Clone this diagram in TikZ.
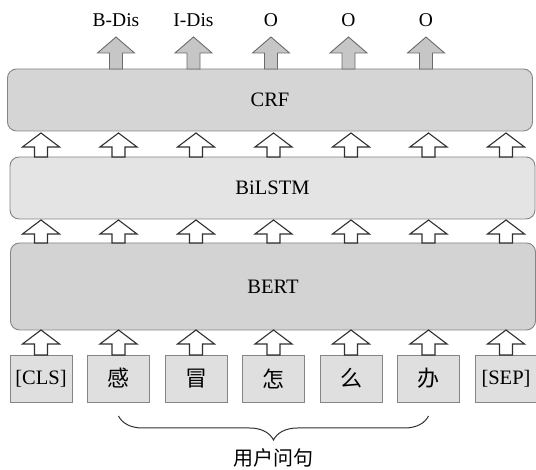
\documentclass[tikz,border=0pt]{standalone}
\usepackage{fontspec}
\setmainfont{Liberation Serif}
\newfontfamily\cjk{Noto Sans CJK SC}
\usetikzlibrary{calc,chains,positioning,decorations.pathreplacing}

\definecolor{boxline}{HTML}{858585}
\definecolor{crffill}{HTML}{D5D5D5}
\definecolor{lstmfill}{HTML}{E4E4E4}
\definecolor{bertfill}{HTML}{D3D3D3}
\definecolor{tokfill}{HTML}{DFDFDF}
\definecolor{arrfill}{HTML}{C6C6C6}
\definecolor{arrline}{HTML}{303030}
\definecolor{grayline}{HTML}{6A6A6A}

% block arrow pointing up: style, from, to, head length
\newcommand{\blockup}[4]{%
  \draw[#1] let \p1=(#2), \p2=(#3) in
    (\x1-6.5pt,\y1) -- (\x1-6.5pt,\y2-#4) -- (\x1-18.5pt,\y2-#4) -- (\x1,\y2)
    -- (\x1+18.5pt,\y2-#4) -- (\x1+6.5pt,\y2-#4) -- (\x1+6.5pt,\y1) -- cycle;}

\begin{document}
\begin{tikzpicture}[x=1pt, y=1pt,
node distance=15.5pt,
 start chain = T going right,
    layer/.style = {rectangle, rounded corners=9pt, draw=boxline, line width=0.9pt,
                    minimum width=525pt, outer sep=0pt,
                    font=\fontsize{20.5}{24}\selectfont},
    tok/.style = {rectangle, draw=boxline, fill=tokfill, line width=0.9pt,% token boxes (chain)
                  minimum width=62pt, minimum height=47pt, inner sep=1pt,
                  outer sep=0pt, on chain, font=\fontsize{20.5}{24}\selectfont},
    wa/.style = {draw=arrline, fill=white, line width=1.1pt},
    ga/.style = {draw=grayline, fill=arrfill, line width=0.9pt},
    lab/.style = {anchor=base, inner sep=0pt, font=\fontsize{19.5}{23}\selectfont},
                        ]
\useasboundingbox (0,0) rectangle (536,470);
% layers
\node[layer, fill=crffill, minimum height=62pt] (crf) at (270,370) {CRF};
\node[layer, fill=lstmfill, minimum height=62pt] (bilstm) at (272.5,282) {BiLSTM};
\node[layer, fill=bertfill, minimum height=87pt] (bert) at (273,183.5) {BERT};
% input tokens
\node[tok] at (41,91.5) {[CLS]};
\foreach \t in {感,冒,怎,么,办}% <-- characters of the query
    \node[tok] {\cjk\fontsize{22}{24}\selectfont\t};
\node[tok] {[SEP]};
% arrows between layers
\foreach \i in {1,...,7} {
  \blockup{wa}{T-\i.north}{bert.south -| T-\i}{14pt}
  \blockup{wa}{bert.north -| T-\i}{$(bilstm.south -| T-\i)+(0,-1)$}{14pt}
  \blockup{wa}{bilstm.north -| T-\i}{$(crf.south -| T-\i)+(0,-2)$}{14pt}
}
% output tags
\coordinate (top) at (0,443);
\foreach \i/\t in {2/B-Dis,3/I-Dis,4/O,5/O,6/O} {
  \node[lab] (L-\i) at ($(T-\i |- top)+(-2.5,0)$) {\t};
  \blockup{ga}{$(crf.north -| T-\i)+(-2.5,0)$}{$(crf.north -| T-\i)+(-2.5,32)$}{16pt}
}
% brace under the query
\draw[draw=arrline, line width=1pt, decorate, decoration={brace, mirror, amplitude=24pt}]
  ($(T-2.south)+(0,-14)$) coordinate (bl) -- ($(T-6.south)+(0,-14)$) coordinate (br);
\node[font=\fontsize{20}{22}\selectfont\cjk, inner sep=0pt] (q) at ($(bl)!0.5!(br)+(0,-42)$) {用户问句};
\end{tikzpicture}
\end{document}
